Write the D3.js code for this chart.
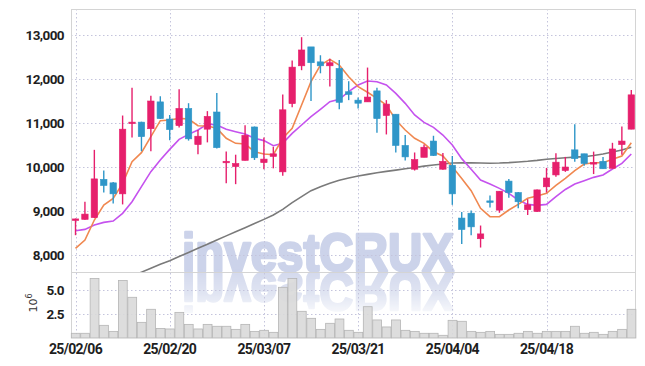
<!DOCTYPE html>
<html>
<head>
<meta charset="utf-8">
<script src="https://cdn.jsdelivr.net/npm/d3@7"></script>
<style>
  body { margin: 0; background: #fff; }
  svg { display: block; }
  .lbl { font-family: Roboto, "Liberation Sans", sans-serif; font-weight: bold; fill: #1e1e1e; }
</style>
</head>
<body>
<div id="container"><svg></svg></div>
<script>
let width = 645, height = 366;

// trading days shown (yy/mm/dd)
let dates = ['25/02/06','25/02/07','25/02/10','25/02/11','25/02/12','25/02/13','25/02/14','25/02/17','25/02/18','25/02/19',
  '25/02/20','25/02/21','25/02/24','25/02/25','25/02/26','25/02/27','25/02/28','25/03/04','25/03/05','25/03/06',
  '25/03/07','25/03/10','25/03/11','25/03/12','25/03/13','25/03/14','25/03/17','25/03/18','25/03/19','25/03/20',
  '25/03/21','25/03/24','25/03/25','25/03/26','25/03/27','25/03/28','25/03/31','25/04/01','25/04/02','25/04/03',
  '25/04/04','25/04/07','25/04/08','25/04/09','25/04/10','25/04/11','25/04/14','25/04/15','25/04/16','25/04/17',
  '25/04/18','25/04/21','25/04/22','25/04/23','25/04/24','25/04/25','25/04/28','25/04/29','25/04/30','25/05/02'];

let open  = [8800,8810,8850,9720,9640,9390,11000,11020,10870,11480, 11090,10940,11330,10510,10860,11250,10120,10010,10150,10910,
  10100,10240,9890,11440,12300,12730,12390,12300,12240,11710, 11520,11480,11730,11170,11200,10490,9950,10220,10590,9950,
  10040,8840,8950,8370,9230,9020,9680,9420,9030,8990, 9550,9820,9920,10390,10300,10090,10130,9970,10510,10860];
let high  = [8830,9210,10390,9920,9660,11170,11800,11030,11620,11610, 11180,11770,11450,10840,11270,11680,10350,10280,10950,10920,
  10670,10460,11650,12420,12950,12730,12540,12460,12430,11950, 11580,12260,11800,11520,11200,10730,10330,10510,10710,10320,
  10250,8980,9010,8670,9350,9450,9730,9430,9270,9490, 9980,10310,10230,10970,10300,10350,10230,10550,10920,11750];
let low   = [8450,8800,8840,9420,9170,9150,10670,10360,10360,11090, 10610,10900,10600,10290,10560,10420,9630,9610,10150,10160,
  9950,9970,9800,11360,12200,11500,12130,11830,11310,11520, 11330,11480,10780,10740,10330,10150,9920,10220,10250,9940,
  9140,8250,8450,8170,9080,8960,9300,9060,8910,8980, 9420,9780,9890,10120,10030,9840,9960,9970,10280,10860];
let close = [8820,8930,9730,9580,9390,10860,11020,10690,11500,11100, 10850,11330,10640,10700,11150,10440,10130,10080,10720,10210,
  10180,10300,11300,12270,12660,12370,12300,12370,11470,11650, 11450,11590,11100,11430,10490,10230,10170,10450,10260,10130,
  9390,8580,8640,8480,9210,9450,9420,9210,9140,9480, 9750,10110,10000,10190,10080,10100,9960,10410,10590,11640];

// volume, millions of shares
let volume = [0.49,0.49,6.2,1.32,0.69,6.0,4.24,1.63,2.99,1.0, 0.94,2.67,1.42,0.94,1.42,1.22,1.22,0.9,1.42,0.69,
  0.8,0.59,5.28,6.2,2.78,2.05,0.9,1.53,1.98,0.8, 0.59,3.26,1.88,1.15,1.88,0.8,0.69,0.49,0.49,0.28,
  1.84,1.74,0.69,0.59,0.69,0.38,0.38,0.49,0.69,0.49, 0.69,0.69,0.69,1.22,0.49,0.59,0.38,0.69,0.9,2.99];

// moving averages as drawn
let ma5  = [8150,8340,8795,9136,9288,9629,10121,10326,10689,11053, 11068,11106,11090,10939,10932,10879,10652,10538,10523,10348,
  10295,10280,10652,10879,11409,11939,12318,12447,12318,12053, 11826,11700,11561,11409,11068,10841,10652,10538,10348,10250,
  10008,9740,9462,9061,8871,8871,9023,9151,9288,9341, 9402,9583,9740,9917,10068,10098,10098,10174,10250,10553];
let ma20 = [8553,8583,8682,8742,8773,8947,9212,9553,9894,10159, 10400,10629,10742,10841,10977,10955,10856,10803,10750,10652,
  10600,10485,10538,10765,10955,11144,11311,11485,11538,11712, 11864,11955,11939,11864,11674,11447,11182,11015,10902,10727,
  10500,10190,9947,9705,9614,9515,9402,9250,9151,9129, 9151,9326,9490,9614,9689,9765,9818,9955,10083,10295];
let ma60 = [null,null,null,null,null,null,7520,7610,7700,7790, 7872,7966,8059,8153,8247,8341,8435,8529,8622,8716,
  8810,8909,9038,9189,9326,9462,9553,9629,9697,9750, 9795,9833,9870,9900,9930,9960,9990,10020,10045,10070,
  10090,10095,10095,10090,10085,10090,10100,10115,10130,10150, 10175,10195,10212,10225,10235,10260,10295,10340,10386,10447];

let priceTicks = [8000,9000,10000,11000,12000,13000];
let volTicks = [2.5,5.0];
let dateTicks = [0,10,20,30,40,50];

let col_up = '#e61f6c', col_dn = '#2f96c8';
let col_ma5 = '#f08850', col_ma20 = '#c552ee', col_ma60 = '#7a7a7a';

let L = 71, R = 636, pTop = 9, pBot = 272, vBot = 338;

function draw() {
    let svg = d3.select('#container').select('svg')
        .attr('width', width).attr('height', height);

    let x = d3.scaleBand().domain(d3.range(dates.length)).range([70.8, R]).padding(0);
    let step = x.step();
    let cx = i => x(i) + step / 2;
    let y = d3.scaleLinear().domain([7614, 13591]).range([pBot, pTop]);
    let yv = d3.scaleLinear().domain([0, 6.875]).range([vBot, pBot]);

    let defs = svg.append('defs');
    defs.append('clipPath').attr('id', 'pclip')
        .append('rect').attr('x', L).attr('y', pTop).attr('width', R - L).attr('height', pBot - pTop);
    let g = defs.append('linearGradient').attr('id', 'fade').attr('x1', 0).attr('y1', 0).attr('x2', 0).attr('y2', 1);
    g.append('stop').attr('offset', 0).attr('stop-color', '#fff').attr('stop-opacity', 0.85);
    g.append('stop').attr('offset', 0.45).attr('stop-color', '#fff').attr('stop-opacity', 0.6);
    g.append('stop').attr('offset', 1).attr('stop-color', '#fff').attr('stop-opacity', 0);
    defs.append('mask').attr('id', 'refmask').attr('maskUnits', 'userSpaceOnUse')
        .append('rect').attr('x', 150).attr('y', pBot).attr('width', 340).attr('height', 48).attr('fill', 'url(#fade)');

    // watermark + its reflection, behind everything
    let wm = svg.append('g');
    wm.append('text')
        .attr('id', 'wmtext')
        .attr('x', 182).attr('y', pBot - 1)
        .attr('textLength', 272).attr('lengthAdjust', 'spacingAndGlyphs')
        .style('font-family', '"Liberation Sans", Arial, sans-serif')
        .style('font-weight', 'bold').style('font-size', '53px')
        .attr('fill', '#ccd3ea')
        .attr('stroke', '#ccd3ea').attr('stroke-width', 2.6).attr('stroke-linejoin', 'round')
        .text('investCRUX');
    wm.append('g').attr('mask', 'url(#refmask)')
        .append('use')
        .attr('href', '#wmtext')
        .attr('transform', `translate(0,${2 * pBot}) scale(1,-1)`);

    // grid
    let grid = svg.append('g').attr('stroke', '#c4c4dc').attr('stroke-dasharray', '1.5,2.5').attr('stroke-width', 1);
    grid.selectAll('.hp').data(priceTicks).join('line')
        .attr('x1', L).attr('x2', R).attr('y1', d => Math.round(y(d)) + 0.5).attr('y2', d => Math.round(y(d)) + 0.5);
    grid.selectAll('.hv').data(volTicks).join('line')
        .attr('x1', L).attr('x2', R).attr('y1', d => Math.round(yv(d)) + 0.5).attr('y2', d => Math.round(yv(d)) + 0.5);
    grid.selectAll('.vx').data(dateTicks).join('line')
        .attr('x1', d => Math.round(cx(d)) + 0.5).attr('x2', d => Math.round(cx(d)) + 0.5)
        .attr('y1', pTop).attr('y2', vBot);

    // frame
    let frame = svg.append('g').attr('stroke', '#d4d4d4').attr('fill', 'none');
    frame.append('line').attr('x1', L + 0.5).attr('x2', L + 0.5).attr('y1', pTop).attr('y2', vBot);
    frame.append('line').attr('x1', R - 0.5).attr('x2', R - 0.5).attr('y1', pTop).attr('y2', vBot);
    frame.append('line').attr('x1', L).attr('x2', R).attr('y1', pTop + 0.5).attr('y2', pTop + 0.5);
    frame.append('line').attr('x1', L).attr('x2', R).attr('y1', pBot + 0.5).attr('y2', pBot + 0.5);

    // volume bars
    svg.append('g')
        .selectAll('rect')
        .data(volume)
        .join('rect')
        .attr('x', (d, i) => x(i) + 0.5)
        .attr('width', step - 0.6)
        .attr('y', d => yv(d))
        .attr('height', d => vBot - yv(d))
        .attr('fill', '#d9d9d9')
        .attr('fill-opacity', 0.9)
        .attr('stroke', '#b5b5b5')
        .attr('stroke-width', 0.8);

    let plot = svg.append('g').attr('clip-path', 'url(#pclip)');

    // moving averages
    let lineOf = arr => d3.line()
        .defined(d => d != null)
        .x((d, i) => cx(i))
        .y(d => y(d))(arr);
    [[ma60, col_ma60], [ma20, col_ma20], [ma5, col_ma5]].forEach(function (m) {
        plot.append('path').attr('d', lineOf(m[0])).attr('fill', 'none')
            .attr('stroke', m[1]).attr('stroke-width', 1.6);
    });

    // candles
    let bw = step * 0.68;
    let cand = plot.append('g').selectAll('g').data(dates.map((d, i) => i)).join('g')
        .attr('fill', i => close[i] >= open[i] ? col_up : col_dn)
        .attr('stroke', i => close[i] >= open[i] ? col_up : col_dn);
    cand.append('line')
        .attr('x1', i => cx(i)).attr('x2', i => cx(i))
        .attr('y1', i => y(high[i])).attr('y2', i => y(low[i]))
        .attr('stroke-width', 1.4);
    cand.append('rect')
        .attr('x', i => cx(i) - bw / 2)
        .attr('width', bw)
        .attr('y', i => y(Math.max(open[i], close[i])))
        .attr('height', i => Math.max(1.5, Math.abs(y(open[i]) - y(close[i]))))
        .attr('stroke-width', 0.6);

    // labels
    svg.append('g').selectAll('text').data(priceTicks).join('text')
        .attr('class', 'lbl').attr('text-anchor', 'end')
        .attr('x', 64).attr('y', d => y(d) + 5)
        .style('font-size', '13.5px').style('letter-spacing', '-0.6px')
        .text(d => d3.format(',')(d));
    svg.append('g').selectAll('text').data(volTicks).join('text')
        .attr('class', 'lbl').attr('text-anchor', 'end')
        .attr('x', 64).attr('y', d => yv(d) + 5)
        .style('font-size', '13.5px').style('letter-spacing', '-0.6px')
        .text(d => d3.format('.1f')(d));
    svg.append('g').selectAll('text').data(dateTicks).join('text')
        .attr('class', 'lbl').attr('text-anchor', 'middle')
        .attr('x', d => cx(d)).attr('y', 354)
        .style('font-size', '14px').style('letter-spacing', '-0.7px')
        .text(d => dates[d]);

    let unit = svg.append('text')
        .attr('transform', 'translate(37,303) rotate(-90)')
        .attr('text-anchor', 'middle')
        .style('font-family', '"DejaVu Sans", sans-serif')
        .style('font-size', '11px').attr('fill', '#333');
    unit.append('tspan').text('10');
    unit.append('tspan').attr('dy', -5).style('font-size', '8px').text('6');
}

draw();
</script>
</body>
</html>
